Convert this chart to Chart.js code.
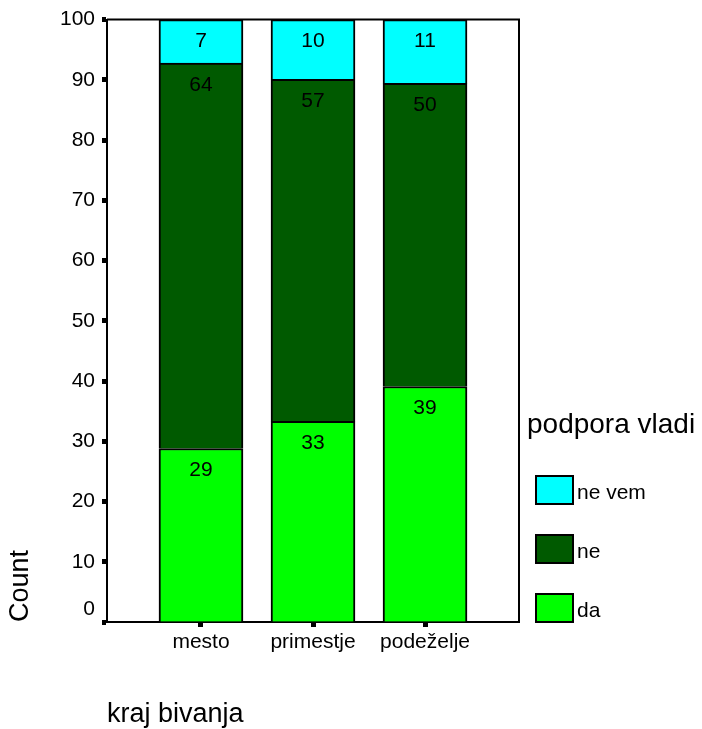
<!DOCTYPE html>
<html>
<head>
<meta charset="utf-8">
<script src="https://cdn.jsdelivr.net/npm/chart.js@4/dist/chart.umd.min.js"></script>
<style>
  html, body { margin: 0; padding: 0; background: #ffffff; }
  #wrap { width: 702px; height: 729px; position: relative; }
</style>
</head>
<body>
<div id="wrap"><canvas id="c" width="702" height="729"></canvas></div>
<script>
// ---- data ----
const categories = ['mesto', 'primestje', 'podeželje'];
const seriesNames = ['da', 'ne', 'ne vem'];
const daValues    = [28.8, 33.3, 39.1];
const neValues    = [64.0, 56.8, 50.3];
const neVemValues = [7.2, 9.9, 10.6];
const yTicks = [0, 10, 20, 30, 40, 50, 60, 70, 80, 90, 100];
const legendTitle = 'podpora vladi';
const xTitle = 'kraj bivanja';
const yTitle = 'Count';

const colors = ['#00FF00', '#005A00', '#00FFFF'];
const FONT = "'Liberation Sans', Arial, sans-serif";

const seriesValues = [daValues, neValues, neVemValues];
const datasets = seriesNames.map((name, s) => ({
  label: name,
  data: categories.map((c, i) => ({ x: i, y: seriesValues[s][i] })),
  backgroundColor: colors[s],
  borderColor: '#000000',
  borderWidth: 2,
  barThickness: 84
}));

const valueLabels = {
  id: 'valueLabels',
  afterDatasetsDraw(chart) {
    const ctx = chart.ctx;
    ctx.save();
    ctx.font = '21px ' + FONT;
    ctx.fillStyle = '#000000';
    ctx.textAlign = 'center';
    ctx.textBaseline = 'middle';
    chart.data.datasets.forEach((ds, di) => {
      const meta = chart.getDatasetMeta(di);
      meta.data.forEach((bar, i) => {
        ctx.fillText(String(Math.round(ds.data[i].y)), bar.x, bar.y + 22);
      });
    });
    ctx.restore();
  }
};

const frame = {
  id: 'frame',
  afterDatasetsDraw(chart) {
    const a = chart.chartArea;
    const ctx = chart.ctx;
    ctx.save();
    ctx.strokeStyle = '#000000';
    ctx.lineWidth = 2;
    ctx.beginPath();
    ctx.moveTo(a.left, a.top);
    ctx.lineTo(a.right, a.top);
    ctx.lineTo(a.right, a.bottom);
    ctx.stroke();
    ctx.restore();
  }
};

const customLegend = {
  id: 'customLegend',
  afterDraw(chart) {
    const a = chart.chartArea;
    const ctx = chart.ctx;
    ctx.save();
    ctx.fillStyle = '#000000';
    ctx.textAlign = 'left';
    ctx.textBaseline = 'alphabetic';
    ctx.font = '28px ' + FONT;
    ctx.fillText(legendTitle, a.right + 8, a.bottom - 189);
    const items = chart.data.datasets.map((d, i) => ({ label: d.label, color: d.backgroundColor })).reverse();
    const n = items.length;
    items.forEach((it, k) => {
      const boxBottom = a.bottom - (n - 1 - k) * 59;
      const boxTop = boxBottom - 28;
      const bx = a.right + 17;
      ctx.fillStyle = it.color;
      ctx.fillRect(bx, boxTop, 37, 28);
      ctx.strokeStyle = '#000000';
      ctx.lineWidth = 2;
      ctx.strokeRect(bx, boxTop, 37, 28);
      ctx.fillStyle = '#000000';
      ctx.font = '21px ' + FONT;
      ctx.fillText(it.label, bx + 41, boxBottom - 5);
    });
    ctx.restore();
  }
};

new Chart(document.getElementById('c'), {
  type: 'bar',
  data: { datasets },
  options: {
    responsive: false,
    animation: false,
    maintainAspectRatio: false,
    layout: { padding: { top: 18, right: 183, bottom: 0, left: 0 } },
    plugins: {
      legend: { display: false },
      tooltip: { enabled: false },
      title: { display: false }
    },
    scales: {
      x: {
        type: 'linear',
        stacked: true,
        offset: false,
        min: -0.839,
        max: 2.839,
        afterBuildTicks(scale) { scale.ticks = categories.map((c, i) => ({ value: i })); },
        afterFit(scale) { scale.height = 107; },
        ticks: {
          callback: (v) => categories[v] !== undefined ? categories[v] : '',
          font: { family: FONT, size: 21 },
          color: '#000000',
          padding: 3,
          maxRotation: 0,
          autoSkip: false
        },
        grid: {
          display: true,
          offset: false,
          drawOnChartArea: false,
          drawTicks: true,
          tickLength: 5,
          tickWidth: 5,
          tickColor: '#000000'
        },
        border: { display: true, color: '#000000', width: 2 },
        title: {
          display: true,
          text: xTitle,
          align: 'start',
          color: '#000000',
          font: { family: FONT, size: 27, lineHeight: 1.05 },
          padding: { top: 0, bottom: 0 }
        }
      },
      y: {
        stacked: true,
        min: 0,
        max: 100,
        afterBuildTicks(scale) { scale.ticks = yTicks.map(v => ({ value: v })); },
        afterFit(scale) { scale.width = 107; },
        ticks: {
          callback: (v) => v === 0 ? [String(v), ''] : String(v),
          font: { family: FONT, size: 21 },
          color: '#000000',
          padding: 7
        },
        grid: {
          display: true,
          drawOnChartArea: false,
          drawTicks: true,
          tickLength: 5,
          tickWidth: 5,
          tickColor: '#000000'
        },
        border: { display: true, color: '#000000', width: 2 },
        title: {
          display: true,
          text: yTitle,
          align: 'start',
          color: '#000000',
          font: { family: FONT, size: 27 },
          padding: { top: 4, bottom: 0 }
        }
      }
    }
  },
  plugins: [valueLabels, frame, customLegend]
});
</script>
</body>
</html>
